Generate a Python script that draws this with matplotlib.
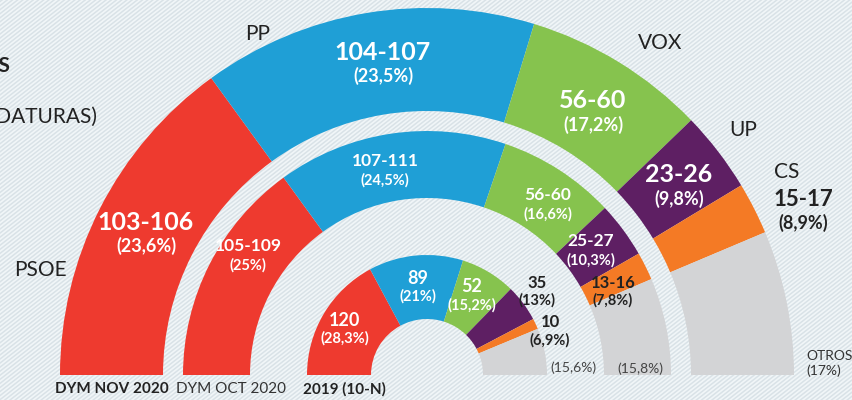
import numpy as np
import matplotlib
matplotlib.use("Agg")
import matplotlib.pyplot as plt
from matplotlib.patches import Wedge

# partidos y colores
partidos = ["PSOE", "PP", "VOX", "UP", "CS", "OTROS"]
colores = ["#EE3A2F", "#1F9FD6", "#86C34E", "#5E1F63", "#F47A25", "#D3D4D6"]
total_escanos = 350

# horquillas de escanos por encuesta (texto)
dym_nov = ["103-106", "104-107", "56-60", "23-26", "15-17"]
dym_oct = ["105-109", "107-111", "56-60", "25-27", "13-16"]
res_2019 = ["120", "89", "52", "35", "10"]

pct_nov = ["23,6%", "23,5%", "17,2%", "9,8%", "8,9%", "17%"]
pct_oct = ["25%", "24,5%", "16,6%", "10,3%", "7,8%", "15,8%"]
pct_2019 = ["28,3%", "21%", "15,2%", "13%", "6,9%", "15,6%"]

# tamano de cada arco (escanos)
arco_nov = [105, 103, 56.5, 25, 16, 44.5]
arco_oct = [105, 106.5, 54.5, 26, 13, 45]
arco_2019 = [120, 89, 52, 35, 10, 44]

etiquetas_anillo = ["DYM NOV 2020", "DYM OCT 2020", "2019 (10-N)"]

plt.rcParams["font.family"] = ["Lato", "DejaVu Sans"]
fig = plt.figure(figsize=(8.52, 4.0), dpi=100)
ax = fig.add_axes([0, 0, 1, 1])
ax.set_xlim(0, 852)
ax.set_ylim(0, 400)
ax.axis("off")
fig.patch.set_facecolor("#F1F6F8")

# fondo rayado
for c in np.arange(-900, 900, 5.2):
    ax.plot([c, c + 1000], [0, 1000 * np.tan(np.radians(38))], color="#D9E2E7", lw=1.1, zorder=0)

cx, cy = 427, 25
anillos = [(264, 367, arco_nov), (177, 244, arco_oct), (56, 120, arco_2019)]
for r_in, r_out, vals in anillos:
    ang = 180.0
    for v, col in zip(vals, colores):
        d = v / total_escanos * 180
        ax.add_patch(Wedge((cx, cy), r_out, ang - d, ang, width=r_out - r_in,
                           facecolor=col, edgecolor="none", zorder=2))
        ang -= d

oscuro = "#222222"


def etiqueta(x, y, num, pct, fs1, fs2, color="white", dy=22):
    ax.text(x, 400 - y, num, ha="center", va="center", fontsize=fs1, fontweight="bold", color=color, zorder=5)
    ax.text(x, 400 - y - dy, f"({pct})", ha="center", va="center", fontsize=fs2, fontweight="bold", color=color, zorder=5)


# anillo exterior
pos_nov = [(146, 222), (383, 52), (593, 101), (679, 175)]
for (x, y), r, p in zip(pos_nov, dym_nov, pct_nov):
    etiqueta(x, y, r, p, 18, 13, dy=24)
etiqueta(803, 200, dym_nov[4], pct_nov[4], 16, 13, color=oscuro, dy=23)
ax.text(806, 400 - 356, "OTROS", ha="left", va="center", fontsize=10, color="#333333")
ax.text(806, 400 - 371, f"({pct_nov[5]})", ha="left", va="center", fontsize=10, color="#333333")

# anillo medio
pos_oct = [(248, 246), (385, 161), (548, 195), (591, 241)]
for (x, y), r, p in zip(pos_oct, dym_oct, pct_oct):
    etiqueta(x, y, r, p, 12.5, 10.5, dy=19)
etiqueta(613, 283, dym_oct[4], pct_oct[4], 12, 10.5, color=oscuro, dy=17)
ax.text(640, 400 - 369, f"({pct_oct[5]})", ha="center", va="center", fontsize=10, color="#444444")

# anillo interior
pos_2019 = [(345, 320), (418, 278), (472, 287)]
for (x, y), r, p in zip(pos_2019, res_2019, pct_2019):
    etiqueta(x, y, r, p, 13, 10.5, dy=18)
etiqueta(537, 283, res_2019[3], pct_2019[3], 12, 10.5, color=oscuro, dy=17)
etiqueta(550, 322, res_2019[4], pct_2019[4], 12, 10.5, color=oscuro, dy=18)
ax.text(573, 400 - 368, f"({pct_2019[5]})", ha="center", va="center", fontsize=10, color="#444444")

# nombres de partidos
for nombre, (x, y) in zip(partidos[:5], [(40, 270), (258, 34), (660, 43), (743, 130), (787, 172)]):
    ax.text(x, 400 - y, nombre, ha="center", va="center", fontsize=15, color=oscuro)

# etiquetas de anillos
ax.text(112, 400 - 389, etiquetas_anillo[0], ha="center", va="center", fontsize=11, fontweight="bold", color=oscuro)
ax.text(231, 400 - 389, etiquetas_anillo[1], ha="center", va="center", fontsize=11, color="#333333")
ax.text(344, 400 - 389, etiquetas_anillo[2], ha="center", va="center", fontsize=11, fontweight="bold", color=oscuro)

# titulo (cortado por el borde, como en el original)
ax.text(10, 400 - 66, "ESCAÑOS", ha="right", va="center", fontsize=15, fontweight="bold", color=oscuro)
ax.text(97, 400 - 117, "(CANDIDATURAS)", ha="right", va="center", fontsize=15, color=oscuro)

fig.savefig("out.png", dpi=100, facecolor=fig.get_facecolor())
